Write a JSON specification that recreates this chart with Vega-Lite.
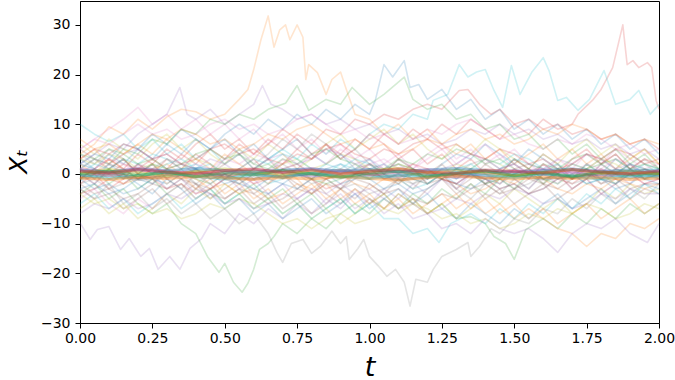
{
"$schema":"https://vega.github.io/schema/vega-lite/v6.json",
"width":579,"height":322,
"autosize":{"type":"none"},
"padding":{"left":80,"top":1,"right":16,"bottom":57},
"background":"white",
"view":{"stroke":"black","strokeWidth":1},
"config":{"font":"DejaVu Sans"},
"data":{"values":[
{"p":0,"t":0,"x":2},{"p":0,"t":0.05,"x":4},{"p":0,"t":0.1,"x":3},{"p":0,"t":0.15,"x":6},{"p":0,"t":0.2,"x":5},{"p":0,"t":0.25,"x":8},{"p":0,"t":0.3,"x":6},{"p":0,"t":0.35,"x":9},{"p":0,"t":0.4,"x":7},{"p":0,"t":0.45,"x":5},{"p":0,"t":0.5,"x":7},{"p":0,"t":0.55,"x":4},{"p":0,"t":0.6,"x":6},{"p":0,"t":0.65,"x":3},{"p":0,"t":0.7,"x":5},{"p":0,"t":0.75,"x":7},{"p":0,"t":0.8,"x":4},{"p":0,"t":0.85,"x":2},{"p":0,"t":0.9,"x":4},{"p":0,"t":0.95,"x":1},{"p":0,"t":1,"x":3},{"p":0,"t":1.05,"x":0},{"p":0,"t":1.1,"x":-2},{"p":0,"t":1.15,"x":1},{"p":0,"t":1.2,"x":-1},{"p":0,"t":1.25,"x":2},{"p":0,"t":1.3,"x":4},{"p":0,"t":1.35,"x":3},{"p":0,"t":1.4,"x":6},{"p":0,"t":1.45,"x":4},{"p":0,"t":1.5,"x":2},{"p":0,"t":1.55,"x":5},{"p":0,"t":1.6,"x":3},{"p":0,"t":1.65,"x":1},{"p":0,"t":1.7,"x":-1},{"p":0,"t":1.75,"x":2},{"p":0,"t":1.8,"x":0},{"p":0,"t":1.85,"x":3},{"p":0,"t":1.9,"x":1},{"p":0,"t":1.95,"x":-1},{"p":0,"t":2,"x":1},
{"p":1,"t":0,"x":4},{"p":1,"t":0.05,"x":6},{"p":1,"t":0.1,"x":9.5},{"p":1,"t":0.15,"x":8},{"p":1,"t":0.2,"x":11},{"p":1,"t":0.25,"x":9},{"p":1,"t":0.3,"x":11.5},{"p":1,"t":0.35,"x":13},{"p":1,"t":0.4,"x":12.5},{"p":1,"t":0.45,"x":11},{"p":1,"t":0.5,"x":12},{"p":1,"t":0.55,"x":15},{"p":1,"t":0.58,"x":17},{"p":1,"t":0.6,"x":21},{"p":1,"t":0.625,"x":27},{"p":1,"t":0.65,"x":31.8},{"p":1,"t":0.67,"x":25.5},{"p":1,"t":0.69,"x":29},{"p":1,"t":0.71,"x":30},{"p":1,"t":0.725,"x":27},{"p":1,"t":0.75,"x":30},{"p":1,"t":0.77,"x":27.5},{"p":1,"t":0.78,"x":19},{"p":1,"t":0.79,"x":22},{"p":1,"t":0.82,"x":20.4},{"p":1,"t":0.85,"x":16},{"p":1,"t":0.87,"x":19},{"p":1,"t":0.9,"x":20.5},{"p":1,"t":0.92,"x":17},{"p":1,"t":0.95,"x":12},{"p":1,"t":1,"x":11},{"p":1,"t":1.05,"x":8},{"p":1,"t":1.1,"x":10},{"p":1,"t":1.15,"x":7},{"p":1,"t":1.2,"x":9},{"p":1,"t":1.25,"x":6},{"p":1,"t":1.3,"x":4},{"p":1,"t":1.35,"x":6},{"p":1,"t":1.4,"x":3},{"p":1,"t":1.45,"x":5},{"p":1,"t":1.5,"x":2},{"p":1,"t":1.55,"x":4},{"p":1,"t":1.6,"x":6},{"p":1,"t":1.65,"x":3},{"p":1,"t":1.7,"x":5},{"p":1,"t":1.75,"x":2},{"p":1,"t":1.8,"x":4},{"p":1,"t":1.85,"x":1},{"p":1,"t":1.9,"x":3},{"p":1,"t":1.95,"x":5},{"p":1,"t":2,"x":2},
{"p":2,"t":0,"x":-1},{"p":2,"t":0.05,"x":1},{"p":2,"t":0.1,"x":-2},{"p":2,"t":0.15,"x":0},{"p":2,"t":0.2,"x":-3},{"p":2,"t":0.25,"x":-1},{"p":2,"t":0.3,"x":-4},{"p":2,"t":0.35,"x":-2},{"p":2,"t":0.4,"x":-5},{"p":2,"t":0.45,"x":-3},{"p":2,"t":0.5,"x":-6},{"p":2,"t":0.55,"x":-4},{"p":2,"t":0.6,"x":-2},{"p":2,"t":0.65,"x":-5},{"p":2,"t":0.7,"x":-3},{"p":2,"t":0.75,"x":-6},{"p":2,"t":0.8,"x":-4},{"p":2,"t":0.85,"x":-7},{"p":2,"t":0.9,"x":-5},{"p":2,"t":0.95,"x":-8},{"p":2,"t":1,"x":-6},{"p":2,"t":1.05,"x":-4},{"p":2,"t":1.1,"x":-7},{"p":2,"t":1.15,"x":-5},{"p":2,"t":1.2,"x":-8},{"p":2,"t":1.25,"x":-6},{"p":2,"t":1.3,"x":-9},{"p":2,"t":1.35,"x":-8.6},{"p":2,"t":1.4,"x":-10},{"p":2,"t":1.43,"x":-12.6},{"p":2,"t":1.47,"x":-14},{"p":2,"t":1.5,"x":-17.2},{"p":2,"t":1.54,"x":-11.2},{"p":2,"t":1.6,"x":-9},{"p":2,"t":1.65,"x":-11},{"p":2,"t":1.7,"x":-8},{"p":2,"t":1.75,"x":-10},{"p":2,"t":1.8,"x":-7},{"p":2,"t":1.85,"x":-9},{"p":2,"t":1.9,"x":-6},{"p":2,"t":1.95,"x":-8},{"p":2,"t":2,"x":-6},
{"p":3,"t":0,"x":-2},{"p":3,"t":0.05,"x":0},{"p":3,"t":0.1,"x":-3},{"p":3,"t":0.15,"x":-1},{"p":3,"t":0.2,"x":2},{"p":3,"t":0.25,"x":0},{"p":3,"t":0.3,"x":3},{"p":3,"t":0.35,"x":1},{"p":3,"t":0.4,"x":4},{"p":3,"t":0.45,"x":2},{"p":3,"t":0.5,"x":-1},{"p":3,"t":0.55,"x":1},{"p":3,"t":0.6,"x":3},{"p":3,"t":0.65,"x":0},{"p":3,"t":0.7,"x":2},{"p":3,"t":0.75,"x":5},{"p":3,"t":0.8,"x":3},{"p":3,"t":0.85,"x":6},{"p":3,"t":0.9,"x":4},{"p":3,"t":0.95,"x":7},{"p":3,"t":1,"x":5},{"p":3,"t":1.05,"x":8},{"p":3,"t":1.1,"x":6},{"p":3,"t":1.15,"x":9},{"p":3,"t":1.2,"x":7},{"p":3,"t":1.25,"x":10},{"p":3,"t":1.3,"x":8},{"p":3,"t":1.35,"x":11},{"p":3,"t":1.4,"x":9},{"p":3,"t":1.45,"x":7},{"p":3,"t":1.5,"x":10},{"p":3,"t":1.55,"x":8},{"p":3,"t":1.6,"x":11},{"p":3,"t":1.65,"x":9},{"p":3,"t":1.7,"x":10},{"p":3,"t":1.72,"x":12},{"p":3,"t":1.77,"x":14.8},{"p":3,"t":1.8,"x":17},{"p":3,"t":1.84,"x":21.4},{"p":3,"t":1.875,"x":30},{"p":3,"t":1.89,"x":22},{"p":3,"t":1.91,"x":22.8},{"p":3,"t":1.93,"x":21.4},{"p":3,"t":1.96,"x":22.4},{"p":3,"t":1.975,"x":21.4},{"p":3,"t":1.99,"x":14.8},{"p":3,"t":2,"x":13},
{"p":4,"t":0,"x":-9.8},{"p":4,"t":0.035,"x":-13.2},{"p":4,"t":0.06,"x":-11.2},{"p":4,"t":0.1,"x":-10.6},{"p":4,"t":0.14,"x":-15.2},{"p":4,"t":0.17,"x":-13},{"p":4,"t":0.21,"x":-16.6},{"p":4,"t":0.24,"x":-15},{"p":4,"t":0.27,"x":-19.2},{"p":4,"t":0.31,"x":-16.6},{"p":4,"t":0.345,"x":-19.2},{"p":4,"t":0.38,"x":-15},{"p":4,"t":0.42,"x":-13},{"p":4,"t":0.45,"x":-10},{"p":4,"t":0.5,"x":-12},{"p":4,"t":0.55,"x":-8},{"p":4,"t":0.6,"x":-10},{"p":4,"t":0.65,"x":-7},{"p":4,"t":0.7,"x":-9},{"p":4,"t":0.75,"x":-6},{"p":4,"t":0.8,"x":-8},{"p":4,"t":0.85,"x":-5},{"p":4,"t":0.9,"x":-7},{"p":4,"t":0.95,"x":-4},{"p":4,"t":1,"x":-6},{"p":4,"t":1.05,"x":-3},{"p":4,"t":1.1,"x":-5},{"p":4,"t":1.15,"x":-2},{"p":4,"t":1.2,"x":-4},{"p":4,"t":1.25,"x":-1},{"p":4,"t":1.3,"x":-3},{"p":4,"t":1.35,"x":0},{"p":4,"t":1.4,"x":-2},{"p":4,"t":1.45,"x":1},{"p":4,"t":1.5,"x":-1},{"p":4,"t":1.55,"x":-3},{"p":4,"t":1.6,"x":0},{"p":4,"t":1.65,"x":-2},{"p":4,"t":1.7,"x":1},{"p":4,"t":1.75,"x":-1},{"p":4,"t":1.8,"x":2},{"p":4,"t":1.85,"x":0},{"p":4,"t":1.9,"x":-2},{"p":4,"t":1.95,"x":1},{"p":4,"t":2,"x":-1},
{"p":5,"t":0,"x":-3},{"p":5,"t":0.05,"x":-5},{"p":5,"t":0.1,"x":-4},{"p":5,"t":0.15,"x":-7},{"p":5,"t":0.2,"x":-5},{"p":5,"t":0.25,"x":-3},{"p":5,"t":0.3,"x":-6},{"p":5,"t":0.35,"x":-4},{"p":5,"t":0.4,"x":-2},{"p":5,"t":0.45,"x":-5},{"p":5,"t":0.5,"x":-3},{"p":5,"t":0.55,"x":-1},{"p":5,"t":0.6,"x":-4},{"p":5,"t":0.65,"x":-2},{"p":5,"t":0.7,"x":0},{"p":5,"t":0.75,"x":-3},{"p":5,"t":0.8,"x":-1},{"p":5,"t":0.85,"x":-4},{"p":5,"t":0.9,"x":-6},{"p":5,"t":0.95,"x":-3},{"p":5,"t":1,"x":-5},{"p":5,"t":1.05,"x":-7},{"p":5,"t":1.1,"x":-4},{"p":5,"t":1.15,"x":-6},{"p":5,"t":1.2,"x":-3},{"p":5,"t":1.25,"x":-1},{"p":5,"t":1.3,"x":-4},{"p":5,"t":1.35,"x":-2},{"p":5,"t":1.4,"x":-5},{"p":5,"t":1.45,"x":-3},{"p":5,"t":1.5,"x":-6},{"p":5,"t":1.55,"x":-4},{"p":5,"t":1.6,"x":-2},{"p":5,"t":1.65,"x":-5},{"p":5,"t":1.7,"x":-3},{"p":5,"t":1.75,"x":-1},{"p":5,"t":1.8,"x":-4},{"p":5,"t":1.85,"x":-2},{"p":5,"t":1.9,"x":-5},{"p":5,"t":1.95,"x":-3},{"p":5,"t":2,"x":-4},
{"p":6,"t":0,"x":5},{"p":6,"t":0.05,"x":7},{"p":6,"t":0.1,"x":9},{"p":6,"t":0.15,"x":11},{"p":6,"t":0.2,"x":13.4},{"p":6,"t":0.25,"x":10},{"p":6,"t":0.3,"x":12},{"p":6,"t":0.35,"x":9},{"p":6,"t":0.4,"x":11},{"p":6,"t":0.45,"x":8},{"p":6,"t":0.5,"x":10},{"p":6,"t":0.55,"x":7},{"p":6,"t":0.6,"x":9},{"p":6,"t":0.65,"x":6},{"p":6,"t":0.7,"x":8},{"p":6,"t":0.75,"x":5},{"p":6,"t":0.8,"x":7},{"p":6,"t":0.85,"x":4},{"p":6,"t":0.9,"x":6},{"p":6,"t":0.95,"x":3},{"p":6,"t":1,"x":5},{"p":6,"t":1.05,"x":2},{"p":6,"t":1.1,"x":4},{"p":6,"t":1.15,"x":1},{"p":6,"t":1.2,"x":3},{"p":6,"t":1.25,"x":5},{"p":6,"t":1.3,"x":2},{"p":6,"t":1.35,"x":4},{"p":6,"t":1.4,"x":6},{"p":6,"t":1.45,"x":3},{"p":6,"t":1.5,"x":5},{"p":6,"t":1.55,"x":2},{"p":6,"t":1.6,"x":0},{"p":6,"t":1.65,"x":3},{"p":6,"t":1.7,"x":1},{"p":6,"t":1.75,"x":4},{"p":6,"t":1.8,"x":2},{"p":6,"t":1.85,"x":5},{"p":6,"t":1.9,"x":3},{"p":6,"t":1.95,"x":1},{"p":6,"t":2,"x":2},
{"p":7,"t":0,"x":-3},{"p":7,"t":0.05,"x":-5},{"p":7,"t":0.1,"x":-2},{"p":7,"t":0.15,"x":-6},{"p":7,"t":0.2,"x":-4},{"p":7,"t":0.25,"x":-7},{"p":7,"t":0.3,"x":-5},{"p":7,"t":0.35,"x":-8},{"p":7,"t":0.4,"x":-6},{"p":7,"t":0.45,"x":-9},{"p":7,"t":0.5,"x":-7},{"p":7,"t":0.55,"x":-10},{"p":7,"t":0.6,"x":-8},{"p":7,"t":0.65,"x":-12},{"p":7,"t":0.68,"x":-15.8},{"p":7,"t":0.7,"x":-17.8},{"p":7,"t":0.73,"x":-14},{"p":7,"t":0.77,"x":-13.2},{"p":7,"t":0.8,"x":-16},{"p":7,"t":0.83,"x":-14.6},{"p":7,"t":0.87,"x":-11.5},{"p":7,"t":0.9,"x":-14},{"p":7,"t":0.92,"x":-12.6},{"p":7,"t":0.93,"x":-17.2},{"p":7,"t":0.96,"x":-15},{"p":7,"t":0.98,"x":-13.2},{"p":7,"t":1,"x":-16.6},{"p":7,"t":1.03,"x":-18.5},{"p":7,"t":1.06,"x":-20.6},{"p":7,"t":1.09,"x":-19.2},{"p":7,"t":1.12,"x":-21.8},{"p":7,"t":1.14,"x":-26.6},{"p":7,"t":1.16,"x":-21.2},{"p":7,"t":1.2,"x":-21.8},{"p":7,"t":1.22,"x":-19.2},{"p":7,"t":1.25,"x":-16.6},{"p":7,"t":1.3,"x":-15.2},{"p":7,"t":1.34,"x":-13.8},{"p":7,"t":1.35,"x":-16.6},{"p":7,"t":1.38,"x":-14.6},{"p":7,"t":1.42,"x":-11},{"p":7,"t":1.45,"x":-12},{"p":7,"t":1.5,"x":-9},{"p":7,"t":1.55,"x":-10},{"p":7,"t":1.6,"x":-7},{"p":7,"t":1.65,"x":-8},{"p":7,"t":1.7,"x":-5},{"p":7,"t":1.75,"x":-7},{"p":7,"t":1.8,"x":-4},{"p":7,"t":1.85,"x":-6},{"p":7,"t":1.9,"x":-3},{"p":7,"t":1.95,"x":-5},{"p":7,"t":2,"x":-2},
{"p":8,"t":0,"x":6},{"p":8,"t":0.05,"x":4},{"p":8,"t":0.1,"x":7},{"p":8,"t":0.15,"x":5},{"p":8,"t":0.2,"x":3},{"p":8,"t":0.25,"x":6},{"p":8,"t":0.3,"x":8},{"p":8,"t":0.35,"x":5},{"p":8,"t":0.4,"x":7},{"p":8,"t":0.45,"x":4},{"p":8,"t":0.5,"x":2},{"p":8,"t":0.55,"x":5},{"p":8,"t":0.6,"x":3},{"p":8,"t":0.65,"x":6},{"p":8,"t":0.7,"x":4},{"p":8,"t":0.75,"x":1},{"p":8,"t":0.8,"x":3},{"p":8,"t":0.85,"x":6},{"p":8,"t":0.9,"x":8},{"p":8,"t":0.95,"x":5},{"p":8,"t":1,"x":7},{"p":8,"t":1.05,"x":9},{"p":8,"t":1.1,"x":6},{"p":8,"t":1.15,"x":8},{"p":8,"t":1.2,"x":5},{"p":8,"t":1.25,"x":3},{"p":8,"t":1.3,"x":6},{"p":8,"t":1.35,"x":4},{"p":8,"t":1.4,"x":7},{"p":8,"t":1.45,"x":5},{"p":8,"t":1.5,"x":3},{"p":8,"t":1.55,"x":1},{"p":8,"t":1.6,"x":4},{"p":8,"t":1.65,"x":2},{"p":8,"t":1.7,"x":5},{"p":8,"t":1.75,"x":7},{"p":8,"t":1.8,"x":4},{"p":8,"t":1.85,"x":6},{"p":8,"t":1.9,"x":3},{"p":8,"t":1.95,"x":5},{"p":8,"t":2,"x":2},
{"p":9,"t":0,"x":10},{"p":9,"t":0.05,"x":8},{"p":9,"t":0.1,"x":6.5},{"p":9,"t":0.15,"x":8},{"p":9,"t":0.2,"x":5},{"p":9,"t":0.25,"x":7},{"p":9,"t":0.3,"x":4},{"p":9,"t":0.35,"x":6},{"p":9,"t":0.4,"x":3},{"p":9,"t":0.45,"x":5},{"p":9,"t":0.5,"x":2},{"p":9,"t":0.55,"x":4},{"p":9,"t":0.6,"x":1},{"p":9,"t":0.65,"x":3},{"p":9,"t":0.7,"x":5},{"p":9,"t":0.75,"x":3},{"p":9,"t":0.8,"x":6},{"p":9,"t":0.85,"x":4},{"p":9,"t":0.9,"x":7},{"p":9,"t":0.95,"x":5},{"p":9,"t":1,"x":8},{"p":9,"t":1.05,"x":10},{"p":9,"t":1.1,"x":9},{"p":9,"t":1.15,"x":12},{"p":9,"t":1.2,"x":11},{"p":9,"t":1.22,"x":14.8},{"p":9,"t":1.27,"x":16},{"p":9,"t":1.31,"x":22},{"p":9,"t":1.34,"x":19.5},{"p":9,"t":1.37,"x":20.5},{"p":9,"t":1.4,"x":21},{"p":9,"t":1.43,"x":16.8},{"p":9,"t":1.46,"x":13.4},{"p":9,"t":1.49,"x":21.8},{"p":9,"t":1.52,"x":16},{"p":9,"t":1.56,"x":20.4},{"p":9,"t":1.6,"x":23.4},{"p":9,"t":1.62,"x":20.8},{"p":9,"t":1.65,"x":14.8},{"p":9,"t":1.68,"x":15.4},{"p":9,"t":1.72,"x":12.8},{"p":9,"t":1.76,"x":15},{"p":9,"t":1.81,"x":20.8},{"p":9,"t":1.85,"x":14},{"p":9,"t":1.9,"x":15},{"p":9,"t":1.93,"x":16.8},{"p":9,"t":1.97,"x":12},{"p":9,"t":2,"x":14},
{"p":10,"t":0,"x":3},{"p":10,"t":0.05,"x":1},{"p":10,"t":0.1,"x":4},{"p":10,"t":0.15,"x":2},{"p":10,"t":0.2,"x":5},{"p":10,"t":0.25,"x":3},{"p":10,"t":0.3,"x":6},{"p":10,"t":0.35,"x":4},{"p":10,"t":0.4,"x":7},{"p":10,"t":0.45,"x":5},{"p":10,"t":0.5,"x":8},{"p":10,"t":0.55,"x":10},{"p":10,"t":0.6,"x":8},{"p":10,"t":0.65,"x":11},{"p":10,"t":0.7,"x":9},{"p":10,"t":0.75,"x":12},{"p":10,"t":0.8,"x":10},{"p":10,"t":0.85,"x":13},{"p":10,"t":0.9,"x":11},{"p":10,"t":0.95,"x":14},{"p":10,"t":1,"x":12},{"p":10,"t":1.02,"x":14.8},{"p":10,"t":1.05,"x":22},{"p":10,"t":1.08,"x":19.5},{"p":10,"t":1.12,"x":22.8},{"p":10,"t":1.14,"x":17.4},{"p":10,"t":1.17,"x":18},{"p":10,"t":1.2,"x":15},{"p":10,"t":1.25,"x":17},{"p":10,"t":1.3,"x":13},{"p":10,"t":1.35,"x":15},{"p":10,"t":1.4,"x":11},{"p":10,"t":1.45,"x":13},{"p":10,"t":1.5,"x":9},{"p":10,"t":1.55,"x":11},{"p":10,"t":1.6,"x":8},{"p":10,"t":1.65,"x":10},{"p":10,"t":1.7,"x":7},{"p":10,"t":1.75,"x":9},{"p":10,"t":1.8,"x":6},{"p":10,"t":1.85,"x":8},{"p":10,"t":1.9,"x":5},{"p":10,"t":1.95,"x":7},{"p":10,"t":2,"x":4},
{"p":11,"t":0,"x":2},{"p":11,"t":0.05,"x":0},{"p":11,"t":0.1,"x":3},{"p":11,"t":0.15,"x":1},{"p":11,"t":0.2,"x":-1},{"p":11,"t":0.25,"x":1},{"p":11,"t":0.3,"x":-2},{"p":11,"t":0.35,"x":0},{"p":11,"t":0.4,"x":-3},{"p":11,"t":0.45,"x":-1},{"p":11,"t":0.5,"x":-4},{"p":11,"t":0.55,"x":-2},{"p":11,"t":0.6,"x":-5},{"p":11,"t":0.65,"x":-3},{"p":11,"t":0.7,"x":-6},{"p":11,"t":0.75,"x":-4},{"p":11,"t":0.8,"x":-2},{"p":11,"t":0.85,"x":-5},{"p":11,"t":0.9,"x":-3},{"p":11,"t":0.95,"x":-6},{"p":11,"t":1,"x":-4},{"p":11,"t":1.05,"x":-7},{"p":11,"t":1.1,"x":-5},{"p":11,"t":1.15,"x":-8},{"p":11,"t":1.2,"x":-6},{"p":11,"t":1.25,"x":-4},{"p":11,"t":1.3,"x":-7},{"p":11,"t":1.35,"x":-5},{"p":11,"t":1.4,"x":-8},{"p":11,"t":1.45,"x":-6},{"p":11,"t":1.5,"x":-9},{"p":11,"t":1.55,"x":-7},{"p":11,"t":1.6,"x":-9},{"p":11,"t":1.65,"x":-11},{"p":11,"t":1.7,"x":-12},{"p":11,"t":1.75,"x":-14.6},{"p":11,"t":1.8,"x":-12},{"p":11,"t":1.85,"x":-13},{"p":11,"t":1.9,"x":-10},{"p":11,"t":1.95,"x":-11},{"p":11,"t":2,"x":-9},
{"p":12,"t":0,"x":-4},{"p":12,"t":0.05,"x":-2},{"p":12,"t":0.1,"x":-5},{"p":12,"t":0.15,"x":-3},{"p":12,"t":0.2,"x":-6},{"p":12,"t":0.25,"x":-8},{"p":12,"t":0.3,"x":-6},{"p":12,"t":0.35,"x":-10},{"p":12,"t":0.4,"x":-12},{"p":12,"t":0.44,"x":-16.6},{"p":12,"t":0.48,"x":-19.8},{"p":12,"t":0.5,"x":-18},{"p":12,"t":0.53,"x":-21.8},{"p":12,"t":0.56,"x":-23.8},{"p":12,"t":0.58,"x":-22},{"p":12,"t":0.6,"x":-19.2},{"p":12,"t":0.62,"x":-15.2},{"p":12,"t":0.65,"x":-14},{"p":12,"t":0.67,"x":-12.6},{"p":12,"t":0.7,"x":-10},{"p":12,"t":0.75,"x":-12},{"p":12,"t":0.8,"x":-9},{"p":12,"t":0.85,"x":-11},{"p":12,"t":0.9,"x":-8},{"p":12,"t":0.95,"x":-6},{"p":12,"t":1,"x":-8},{"p":12,"t":1.05,"x":-5},{"p":12,"t":1.1,"x":-7},{"p":12,"t":1.15,"x":-4},{"p":12,"t":1.2,"x":-6},{"p":12,"t":1.25,"x":-3},{"p":12,"t":1.3,"x":-5},{"p":12,"t":1.35,"x":-2},{"p":12,"t":1.4,"x":-4},{"p":12,"t":1.45,"x":-1},{"p":12,"t":1.5,"x":-3},{"p":12,"t":1.55,"x":0},{"p":12,"t":1.6,"x":-2},{"p":12,"t":1.65,"x":1},{"p":12,"t":1.7,"x":-1},{"p":12,"t":1.75,"x":2},{"p":12,"t":1.8,"x":0},{"p":12,"t":1.85,"x":-2},{"p":12,"t":1.9,"x":1},{"p":12,"t":1.95,"x":-1},{"p":12,"t":2,"x":0},
{"p":13,"t":0,"x":-1},{"p":13,"t":0.05,"x":1},{"p":13,"t":0.1,"x":0},{"p":13,"t":0.15,"x":2},{"p":13,"t":0.2,"x":1},{"p":13,"t":0.25,"x":3},{"p":13,"t":0.3,"x":1},{"p":13,"t":0.35,"x":4},{"p":13,"t":0.4,"x":2},{"p":13,"t":0.45,"x":5},{"p":13,"t":0.5,"x":3},{"p":13,"t":0.55,"x":6},{"p":13,"t":0.6,"x":4},{"p":13,"t":0.65,"x":7},{"p":13,"t":0.7,"x":5},{"p":13,"t":0.75,"x":8},{"p":13,"t":0.8,"x":6},{"p":13,"t":0.85,"x":9},{"p":13,"t":0.9,"x":8},{"p":13,"t":0.95,"x":11},{"p":13,"t":1,"x":10},{"p":13,"t":1.05,"x":12},{"p":13,"t":1.1,"x":11},{"p":13,"t":1.15,"x":13},{"p":13,"t":1.2,"x":14},{"p":13,"t":1.25,"x":13},{"p":13,"t":1.31,"x":16.8},{"p":13,"t":1.34,"x":17},{"p":13,"t":1.38,"x":14},{"p":13,"t":1.42,"x":12},{"p":13,"t":1.45,"x":13},{"p":13,"t":1.5,"x":10},{"p":13,"t":1.55,"x":11},{"p":13,"t":1.6,"x":9},{"p":13,"t":1.65,"x":10},{"p":13,"t":1.7,"x":8},{"p":13,"t":1.75,"x":9},{"p":13,"t":1.8,"x":7},{"p":13,"t":1.85,"x":8},{"p":13,"t":1.9,"x":6},{"p":13,"t":1.95,"x":7},{"p":13,"t":2,"x":5},
{"p":14,"t":0,"x":2},{"p":14,"t":0.05,"x":4},{"p":14,"t":0.1,"x":6},{"p":14,"t":0.15,"x":5},{"p":14,"t":0.2,"x":8},{"p":14,"t":0.25,"x":10},{"p":14,"t":0.3,"x":12},{"p":14,"t":0.345,"x":17.4},{"p":14,"t":0.37,"x":12},{"p":14,"t":0.4,"x":11},{"p":14,"t":0.45,"x":13},{"p":14,"t":0.5,"x":10},{"p":14,"t":0.55,"x":12},{"p":14,"t":0.6,"x":14},{"p":14,"t":0.63,"x":17.8},{"p":14,"t":0.66,"x":14},{"p":14,"t":0.7,"x":13},{"p":14,"t":0.75,"x":11},{"p":14,"t":0.8,"x":12},{"p":14,"t":0.85,"x":10},{"p":14,"t":0.9,"x":11},{"p":14,"t":0.95,"x":9},{"p":14,"t":1,"x":10},{"p":14,"t":1.05,"x":8},{"p":14,"t":1.1,"x":9},{"p":14,"t":1.15,"x":7},{"p":14,"t":1.2,"x":8},{"p":14,"t":1.25,"x":6},{"p":14,"t":1.3,"x":7},{"p":14,"t":1.35,"x":9},{"p":14,"t":1.4,"x":8},{"p":14,"t":1.45,"x":10},{"p":14,"t":1.5,"x":8},{"p":14,"t":1.55,"x":9},{"p":14,"t":1.6,"x":7},{"p":14,"t":1.65,"x":8},{"p":14,"t":1.7,"x":6},{"p":14,"t":1.75,"x":7},{"p":14,"t":1.8,"x":5},{"p":14,"t":1.85,"x":6},{"p":14,"t":1.9,"x":4},{"p":14,"t":1.95,"x":5},{"p":14,"t":2,"x":3},
{"p":15,"t":0,"x":0},{"p":15,"t":0.05,"x":-2},{"p":15,"t":0.1,"x":1},{"p":15,"t":0.15,"x":3},{"p":15,"t":0.2,"x":0},{"p":15,"t":0.25,"x":2},{"p":15,"t":0.3,"x":-1},{"p":15,"t":0.35,"x":-3},{"p":15,"t":0.4,"x":0},{"p":15,"t":0.45,"x":-2},{"p":15,"t":0.5,"x":-5},{"p":15,"t":0.55,"x":-3},{"p":15,"t":0.6,"x":-6},{"p":15,"t":0.65,"x":-4},{"p":15,"t":0.7,"x":-7},{"p":15,"t":0.75,"x":-5},{"p":15,"t":0.8,"x":-8},{"p":15,"t":0.85,"x":-6},{"p":15,"t":0.9,"x":-3},{"p":15,"t":0.95,"x":-5},{"p":15,"t":1,"x":-2},{"p":15,"t":1.05,"x":-4},{"p":15,"t":1.1,"x":-1},{"p":15,"t":1.15,"x":-3},{"p":15,"t":1.2,"x":0},{"p":15,"t":1.25,"x":2},{"p":15,"t":1.3,"x":-1},{"p":15,"t":1.35,"x":1},{"p":15,"t":1.4,"x":-2},{"p":15,"t":1.45,"x":0},{"p":15,"t":1.5,"x":3},{"p":15,"t":1.55,"x":1},{"p":15,"t":1.6,"x":4},{"p":15,"t":1.65,"x":2},{"p":15,"t":1.7,"x":-1},{"p":15,"t":1.75,"x":1},{"p":15,"t":1.8,"x":-2},{"p":15,"t":1.85,"x":0},{"p":15,"t":1.9,"x":2},{"p":15,"t":1.95,"x":-1},{"p":15,"t":2,"x":0},
{"p":16,"t":0,"x":-5},{"p":16,"t":0.05,"x":-3},{"p":16,"t":0.1,"x":-6},{"p":16,"t":0.15,"x":-8},{"p":16,"t":0.2,"x":-5},{"p":16,"t":0.25,"x":-7},{"p":16,"t":0.3,"x":-4},{"p":16,"t":0.35,"x":-2},{"p":16,"t":0.4,"x":-5},{"p":16,"t":0.45,"x":-3},{"p":16,"t":0.5,"x":-1},{"p":16,"t":0.55,"x":1},{"p":16,"t":0.6,"x":-2},{"p":16,"t":0.65,"x":0},{"p":16,"t":0.7,"x":3},{"p":16,"t":0.75,"x":1},{"p":16,"t":0.8,"x":4},{"p":16,"t":0.85,"x":2},{"p":16,"t":0.9,"x":5},{"p":16,"t":0.95,"x":3},{"p":16,"t":1,"x":0},{"p":16,"t":1.05,"x":2},{"p":16,"t":1.1,"x":-1},{"p":16,"t":1.15,"x":1},{"p":16,"t":1.2,"x":4},{"p":16,"t":1.25,"x":6},{"p":16,"t":1.3,"x":3},{"p":16,"t":1.35,"x":5},{"p":16,"t":1.4,"x":2},{"p":16,"t":1.45,"x":4},{"p":16,"t":1.5,"x":1},{"p":16,"t":1.55,"x":-1},{"p":16,"t":1.6,"x":2},{"p":16,"t":1.65,"x":0},{"p":16,"t":1.7,"x":-3},{"p":16,"t":1.75,"x":-1},{"p":16,"t":1.8,"x":-4},{"p":16,"t":1.85,"x":-2},{"p":16,"t":1.9,"x":0},{"p":16,"t":1.95,"x":-2},{"p":16,"t":2,"x":-1},
{"p":17,"t":0,"x":4},{"p":17,"t":0.05,"x":2},{"p":17,"t":0.1,"x":5},{"p":17,"t":0.15,"x":3},{"p":17,"t":0.2,"x":0},{"p":17,"t":0.25,"x":2},{"p":17,"t":0.3,"x":-1},{"p":17,"t":0.35,"x":1},{"p":17,"t":0.4,"x":-2},{"p":17,"t":0.45,"x":0},{"p":17,"t":0.5,"x":3},{"p":17,"t":0.55,"x":5},{"p":17,"t":0.6,"x":2},{"p":17,"t":0.65,"x":4},{"p":17,"t":0.7,"x":7},{"p":17,"t":0.75,"x":5},{"p":17,"t":0.8,"x":8},{"p":17,"t":0.85,"x":6},{"p":17,"t":0.9,"x":3},{"p":17,"t":0.95,"x":5},{"p":17,"t":1,"x":2},{"p":17,"t":1.05,"x":0},{"p":17,"t":1.1,"x":3},{"p":17,"t":1.15,"x":1},{"p":17,"t":1.2,"x":-2},{"p":17,"t":1.25,"x":0},{"p":17,"t":1.3,"x":-3},{"p":17,"t":1.35,"x":-5},{"p":17,"t":1.4,"x":-2},{"p":17,"t":1.45,"x":-4},{"p":17,"t":1.5,"x":-1},{"p":17,"t":1.55,"x":-3},{"p":17,"t":1.6,"x":0},{"p":17,"t":1.65,"x":2},{"p":17,"t":1.7,"x":-1},{"p":17,"t":1.75,"x":1},{"p":17,"t":1.8,"x":3},{"p":17,"t":1.85,"x":1},{"p":17,"t":1.9,"x":4},{"p":17,"t":1.95,"x":2},{"p":17,"t":2,"x":0},
{"p":18,"t":0,"x":-7},{"p":18,"t":0.05,"x":-5},{"p":18,"t":0.1,"x":-8},{"p":18,"t":0.15,"x":-6},{"p":18,"t":0.2,"x":-9},{"p":18,"t":0.25,"x":-7},{"p":18,"t":0.3,"x":-4},{"p":18,"t":0.35,"x":-6},{"p":18,"t":0.4,"x":-3},{"p":18,"t":0.45,"x":-5},{"p":18,"t":0.5,"x":-2},{"p":18,"t":0.55,"x":-4},{"p":18,"t":0.6,"x":-7},{"p":18,"t":0.65,"x":-5},{"p":18,"t":0.7,"x":-8},{"p":18,"t":0.75,"x":-6},{"p":18,"t":0.8,"x":-9},{"p":18,"t":0.85,"x":-7},{"p":18,"t":0.9,"x":-10},{"p":18,"t":0.95,"x":-8},{"p":18,"t":1,"x":-5},{"p":18,"t":1.05,"x":-7},{"p":18,"t":1.1,"x":-4},{"p":18,"t":1.15,"x":-6},{"p":18,"t":1.2,"x":-8},{"p":18,"t":1.25,"x":-6},{"p":18,"t":1.3,"x":-9},{"p":18,"t":1.35,"x":-7},{"p":18,"t":1.4,"x":-4},{"p":18,"t":1.45,"x":-6},{"p":18,"t":1.5,"x":-3},{"p":18,"t":1.55,"x":-5},{"p":18,"t":1.6,"x":-7},{"p":18,"t":1.65,"x":-5},{"p":18,"t":1.7,"x":-8},{"p":18,"t":1.75,"x":-6},{"p":18,"t":1.8,"x":-3},{"p":18,"t":1.85,"x":-5},{"p":18,"t":1.9,"x":-2},{"p":18,"t":1.95,"x":-4},{"p":18,"t":2,"x":-3},
{"p":19,"t":0,"x":-6},{"p":19,"t":0.05,"x":-4},{"p":19,"t":0.1,"x":-7},{"p":19,"t":0.15,"x":-5},{"p":19,"t":0.2,"x":-8},{"p":19,"t":0.25,"x":-6},{"p":19,"t":0.3,"x":-4},{"p":19,"t":0.35,"x":-7},{"p":19,"t":0.4,"x":-5},{"p":19,"t":0.45,"x":-3},{"p":19,"t":0.5,"x":-6},{"p":19,"t":0.55,"x":-4},{"p":19,"t":0.6,"x":-7},{"p":19,"t":0.65,"x":-5},{"p":19,"t":0.7,"x":-8},{"p":19,"t":0.75,"x":-6},{"p":19,"t":0.8,"x":-9},{"p":19,"t":0.85,"x":-7},{"p":19,"t":0.9,"x":-5},{"p":19,"t":0.95,"x":-8},{"p":19,"t":1,"x":-6},{"p":19,"t":1.05,"x":-9},{"p":19,"t":1.1,"x":-9},{"p":19,"t":1.15,"x":-12},{"p":19,"t":1.2,"x":-11},{"p":19,"t":1.24,"x":-13.8},{"p":19,"t":1.28,"x":-10},{"p":19,"t":1.35,"x":-8},{"p":19,"t":1.4,"x":-10},{"p":19,"t":1.45,"x":-7},{"p":19,"t":1.5,"x":-9},{"p":19,"t":1.55,"x":-6},{"p":19,"t":1.6,"x":-8},{"p":19,"t":1.65,"x":-5},{"p":19,"t":1.7,"x":-7},{"p":19,"t":1.75,"x":-4},{"p":19,"t":1.8,"x":-6},{"p":19,"t":1.85,"x":-3},{"p":19,"t":1.9,"x":-5},{"p":19,"t":1.95,"x":-2},{"p":19,"t":2,"x":-4},
{"p":20,"t":0,"x":1},{"p":20,"t":0.05,"x":-1},{"p":20,"t":0.1,"x":2},{"p":20,"t":0.15,"x":0},{"p":20,"t":0.2,"x":-2},{"p":20,"t":0.25,"x":-4},{"p":20,"t":0.3,"x":-1},{"p":20,"t":0.35,"x":-3},{"p":20,"t":0.4,"x":-6},{"p":20,"t":0.45,"x":-4},{"p":20,"t":0.5,"x":-7},{"p":20,"t":0.55,"x":-5},{"p":20,"t":0.6,"x":-8},{"p":20,"t":0.65,"x":-6},{"p":20,"t":0.7,"x":-9},{"p":20,"t":0.75,"x":-7},{"p":20,"t":0.8,"x":-5},{"p":20,"t":0.85,"x":-8},{"p":20,"t":0.9,"x":-6},{"p":20,"t":0.95,"x":-4},{"p":20,"t":1,"x":-7},{"p":20,"t":1.05,"x":-5},{"p":20,"t":1.1,"x":-3},{"p":20,"t":1.15,"x":-6},{"p":20,"t":1.2,"x":-4},{"p":20,"t":1.25,"x":-7},{"p":20,"t":1.3,"x":-9},{"p":20,"t":1.35,"x":-6},{"p":20,"t":1.4,"x":-8},{"p":20,"t":1.45,"x":-10},{"p":20,"t":1.5,"x":-7},{"p":20,"t":1.55,"x":-9},{"p":20,"t":1.6,"x":-6},{"p":20,"t":1.65,"x":-4},{"p":20,"t":1.7,"x":-7},{"p":20,"t":1.75,"x":-5},{"p":20,"t":1.8,"x":-3},{"p":20,"t":1.85,"x":-6},{"p":20,"t":1.9,"x":-4},{"p":20,"t":1.95,"x":-2},{"p":20,"t":2,"x":-3},
{"p":21,"t":0,"x":3},{"p":21,"t":0.05,"x":5},{"p":21,"t":0.1,"x":2},{"p":21,"t":0.15,"x":4},{"p":21,"t":0.2,"x":6},{"p":21,"t":0.25,"x":4},{"p":21,"t":0.3,"x":7},{"p":21,"t":0.35,"x":5},{"p":21,"t":0.4,"x":3},{"p":21,"t":0.45,"x":1},{"p":21,"t":0.5,"x":4},{"p":21,"t":0.55,"x":2},{"p":21,"t":0.6,"x":0},{"p":21,"t":0.65,"x":-2},{"p":21,"t":0.7,"x":1},{"p":21,"t":0.75,"x":-1},{"p":21,"t":0.8,"x":-4},{"p":21,"t":0.85,"x":-2},{"p":21,"t":0.9,"x":-5},{"p":21,"t":0.95,"x":-3},{"p":21,"t":1,"x":-6},{"p":21,"t":1.05,"x":-4},{"p":21,"t":1.1,"x":-7},{"p":21,"t":1.15,"x":-5},{"p":21,"t":1.2,"x":-8},{"p":21,"t":1.25,"x":-6},{"p":21,"t":1.3,"x":-4},{"p":21,"t":1.35,"x":-7},{"p":21,"t":1.4,"x":-5},{"p":21,"t":1.45,"x":-8},{"p":21,"t":1.5,"x":-6},{"p":21,"t":1.55,"x":-9},{"p":21,"t":1.6,"x":-7},{"p":21,"t":1.65,"x":-10},{"p":21,"t":1.7,"x":-8},{"p":21,"t":1.75,"x":-6},{"p":21,"t":1.8,"x":-9},{"p":21,"t":1.85,"x":-7},{"p":21,"t":1.9,"x":-5},{"p":21,"t":1.95,"x":-8},{"p":21,"t":2,"x":-6},
{"p":22,"t":0,"x":1},{"p":22,"t":0.05,"x":3},{"p":22,"t":0.1,"x":2},{"p":22,"t":0.15,"x":5},{"p":22,"t":0.2,"x":4},{"p":22,"t":0.25,"x":7},{"p":22,"t":0.3,"x":6},{"p":22,"t":0.35,"x":9},{"p":22,"t":0.4,"x":8},{"p":22,"t":0.45,"x":11},{"p":22,"t":0.5,"x":10},{"p":22,"t":0.55,"x":12},{"p":22,"t":0.6,"x":11},{"p":22,"t":0.65,"x":13},{"p":22,"t":0.71,"x":14.2},{"p":22,"t":0.75,"x":17.8},{"p":22,"t":0.79,"x":12.8},{"p":22,"t":0.85,"x":15},{"p":22,"t":0.9,"x":14},{"p":22,"t":0.94,"x":17.4},{"p":22,"t":1,"x":14},{"p":22,"t":1.05,"x":16},{"p":22,"t":1.12,"x":19.5},{"p":22,"t":1.15,"x":15},{"p":22,"t":1.2,"x":13},{"p":22,"t":1.25,"x":14},{"p":22,"t":1.3,"x":11},{"p":22,"t":1.35,"x":12},{"p":22,"t":1.4,"x":9},{"p":22,"t":1.45,"x":10},{"p":22,"t":1.5,"x":7},{"p":22,"t":1.55,"x":8},{"p":22,"t":1.6,"x":5},{"p":22,"t":1.65,"x":7},{"p":22,"t":1.7,"x":4},{"p":22,"t":1.75,"x":6},{"p":22,"t":1.8,"x":3},{"p":22,"t":1.85,"x":5},{"p":22,"t":1.9,"x":2},{"p":22,"t":1.95,"x":4},{"p":22,"t":2,"x":1},
{"p":23,"t":0,"x":-1},{"p":23,"t":0.05,"x":1},{"p":23,"t":0.1,"x":3},{"p":23,"t":0.15,"x":1},{"p":23,"t":0.2,"x":4},{"p":23,"t":0.25,"x":2},{"p":23,"t":0.3,"x":5},{"p":23,"t":0.35,"x":3},{"p":23,"t":0.4,"x":6},{"p":23,"t":0.45,"x":8},{"p":23,"t":0.5,"x":5},{"p":23,"t":0.55,"x":7},{"p":23,"t":0.6,"x":4},{"p":23,"t":0.65,"x":6},{"p":23,"t":0.7,"x":9},{"p":23,"t":0.75,"x":7},{"p":23,"t":0.8,"x":4},{"p":23,"t":0.85,"x":6},{"p":23,"t":0.9,"x":3},{"p":23,"t":0.95,"x":5},{"p":23,"t":1,"x":8},{"p":23,"t":1.05,"x":6},{"p":23,"t":1.1,"x":3},{"p":23,"t":1.15,"x":5},{"p":23,"t":1.2,"x":2},{"p":23,"t":1.25,"x":4},{"p":23,"t":1.3,"x":1},{"p":23,"t":1.35,"x":3},{"p":23,"t":1.4,"x":0},{"p":23,"t":1.45,"x":-2},{"p":23,"t":1.5,"x":1},{"p":23,"t":1.55,"x":-1},{"p":23,"t":1.6,"x":2},{"p":23,"t":1.65,"x":0},{"p":23,"t":1.7,"x":3},{"p":23,"t":1.75,"x":5},{"p":23,"t":1.8,"x":2},{"p":23,"t":1.85,"x":4},{"p":23,"t":1.9,"x":1},{"p":23,"t":1.95,"x":3},{"p":23,"t":2,"x":2},
{"p":24,"t":0,"x":0},{"p":24,"t":0.05,"x":-2},{"p":24,"t":0.1,"x":1},{"p":24,"t":0.15,"x":-1},{"p":24,"t":0.2,"x":2},{"p":24,"t":0.25,"x":0},{"p":24,"t":0.3,"x":-3},{"p":24,"t":0.35,"x":-1},{"p":24,"t":0.4,"x":-4},{"p":24,"t":0.45,"x":-2},{"p":24,"t":0.5,"x":0},{"p":24,"t":0.55,"x":-3},{"p":24,"t":0.6,"x":-1},{"p":24,"t":0.65,"x":-4},{"p":24,"t":0.7,"x":-2},{"p":24,"t":0.75,"x":-5},{"p":24,"t":0.8,"x":-3},{"p":24,"t":0.85,"x":-6},{"p":24,"t":0.9,"x":-4},{"p":24,"t":0.95,"x":-7},{"p":24,"t":1,"x":-5},{"p":24,"t":1.05,"x":-8},{"p":24,"t":1.1,"x":-6},{"p":24,"t":1.15,"x":-9},{"p":24,"t":1.2,"x":-8},{"p":24,"t":1.25,"x":-11},{"p":24,"t":1.3,"x":-10},{"p":24,"t":1.35,"x":-12},{"p":24,"t":1.4,"x":-9},{"p":24,"t":1.45,"x":-11},{"p":24,"t":1.5,"x":-12},{"p":24,"t":1.55,"x":-11},{"p":24,"t":1.6,"x":-13},{"p":24,"t":1.65,"x":-15.8},{"p":24,"t":1.7,"x":-12},{"p":24,"t":1.75,"x":-10},{"p":24,"t":1.8,"x":-11},{"p":24,"t":1.85,"x":-9},{"p":24,"t":1.9,"x":-12},{"p":24,"t":1.96,"x":-13.8},{"p":24,"t":2,"x":-10},
{"p":25,"t":0,"x":5},{"p":25,"t":0.05,"x":3},{"p":25,"t":0.1,"x":1},{"p":25,"t":0.15,"x":3},{"p":25,"t":0.2,"x":0},{"p":25,"t":0.25,"x":-2},{"p":25,"t":0.3,"x":1},{"p":25,"t":0.35,"x":-1},{"p":25,"t":0.4,"x":-3},{"p":25,"t":0.45,"x":0},{"p":25,"t":0.5,"x":2},{"p":25,"t":0.55,"x":4},{"p":25,"t":0.6,"x":1},{"p":25,"t":0.65,"x":3},{"p":25,"t":0.7,"x":0},{"p":25,"t":0.75,"x":-2},{"p":25,"t":0.8,"x":-4},{"p":25,"t":0.85,"x":-1},{"p":25,"t":0.9,"x":-3},{"p":25,"t":0.95,"x":0},{"p":25,"t":1,"x":2},{"p":25,"t":1.05,"x":0},{"p":25,"t":1.1,"x":3},{"p":25,"t":1.15,"x":1},{"p":25,"t":1.2,"x":-2},{"p":25,"t":1.25,"x":0},{"p":25,"t":1.3,"x":-3},{"p":25,"t":1.35,"x":-1},{"p":25,"t":1.4,"x":2},{"p":25,"t":1.45,"x":0},{"p":25,"t":1.5,"x":3},{"p":25,"t":1.55,"x":1},{"p":25,"t":1.6,"x":-2},{"p":25,"t":1.65,"x":0},{"p":25,"t":1.7,"x":-3},{"p":25,"t":1.75,"x":-1},{"p":25,"t":1.8,"x":2},{"p":25,"t":1.85,"x":4},{"p":25,"t":1.9,"x":1},{"p":25,"t":1.95,"x":3},{"p":25,"t":2,"x":1},
{"p":26,"t":0,"x":2},{"p":26,"t":0.05,"x":1},{"p":26,"t":0.1,"x":3},{"p":26,"t":0.15,"x":2},{"p":26,"t":0.2,"x":0},{"p":26,"t":0.25,"x":1},{"p":26,"t":0.3,"x":-1},{"p":26,"t":0.35,"x":0},{"p":26,"t":0.4,"x":2},{"p":26,"t":0.45,"x":1},{"p":26,"t":0.5,"x":3},{"p":26,"t":0.55,"x":2},{"p":26,"t":0.6,"x":4},{"p":26,"t":0.65,"x":3},{"p":26,"t":0.7,"x":1},{"p":26,"t":0.75,"x":2},{"p":26,"t":0.8,"x":0},{"p":26,"t":0.85,"x":-1},{"p":26,"t":0.9,"x":1},{"p":26,"t":0.95,"x":0},{"p":26,"t":1,"x":2},{"p":26,"t":1.05,"x":3},{"p":26,"t":1.1,"x":1},{"p":26,"t":1.15,"x":2},{"p":26,"t":1.2,"x":0},{"p":26,"t":1.25,"x":-1},{"p":26,"t":1.3,"x":-2},{"p":26,"t":1.35,"x":0},{"p":26,"t":1.4,"x":-1},{"p":26,"t":1.45,"x":1},{"p":26,"t":1.5,"x":2},{"p":26,"t":1.55,"x":0},{"p":26,"t":1.6,"x":1},{"p":26,"t":1.65,"x":-1},{"p":26,"t":1.7,"x":0},{"p":26,"t":1.75,"x":2},{"p":26,"t":1.8,"x":1},{"p":26,"t":1.85,"x":3},{"p":26,"t":1.9,"x":2},{"p":26,"t":1.95,"x":0},{"p":26,"t":2,"x":1},
{"p":27,"t":0,"x":-2},{"p":27,"t":0.05,"x":-1},{"p":27,"t":0.1,"x":-3},{"p":27,"t":0.15,"x":-2},{"p":27,"t":0.2,"x":0},{"p":27,"t":0.25,"x":-1},{"p":27,"t":0.3,"x":1},{"p":27,"t":0.35,"x":0},{"p":27,"t":0.4,"x":-2},{"p":27,"t":0.45,"x":-3},{"p":27,"t":0.5,"x":-1},{"p":27,"t":0.55,"x":-2},{"p":27,"t":0.6,"x":0},{"p":27,"t":0.65,"x":1},{"p":27,"t":0.7,"x":-1},{"p":27,"t":0.75,"x":0},{"p":27,"t":0.8,"x":-2},{"p":27,"t":0.85,"x":-1},{"p":27,"t":0.9,"x":-3},{"p":27,"t":0.95,"x":-2},{"p":27,"t":1,"x":-4},{"p":27,"t":1.05,"x":-3},{"p":27,"t":1.1,"x":-1},{"p":27,"t":1.15,"x":-2},{"p":27,"t":1.2,"x":0},{"p":27,"t":1.25,"x":-1},{"p":27,"t":1.3,"x":1},{"p":27,"t":1.35,"x":0},{"p":27,"t":1.4,"x":-2},{"p":27,"t":1.45,"x":-1},{"p":27,"t":1.5,"x":-3},{"p":27,"t":1.55,"x":-2},{"p":27,"t":1.6,"x":0},{"p":27,"t":1.65,"x":-1},{"p":27,"t":1.7,"x":1},{"p":27,"t":1.75,"x":0},{"p":27,"t":1.8,"x":-1},{"p":27,"t":1.85,"x":-2},{"p":27,"t":1.9,"x":0},{"p":27,"t":1.95,"x":-1},{"p":27,"t":2,"x":-1},
{"p":28,"t":0,"x":3},{"p":28,"t":0.05,"x":2},{"p":28,"t":0.1,"x":4},{"p":28,"t":0.15,"x":3},{"p":28,"t":0.2,"x":1},{"p":28,"t":0.25,"x":2},{"p":28,"t":0.3,"x":0},{"p":28,"t":0.35,"x":1},{"p":28,"t":0.4,"x":3},{"p":28,"t":0.45,"x":2},{"p":28,"t":0.5,"x":0},{"p":28,"t":0.55,"x":-1},{"p":28,"t":0.6,"x":1},{"p":28,"t":0.65,"x":0},{"p":28,"t":0.7,"x":2},{"p":28,"t":0.75,"x":3},{"p":28,"t":0.8,"x":1},{"p":28,"t":0.85,"x":2},{"p":28,"t":0.9,"x":4},{"p":28,"t":0.95,"x":3},{"p":28,"t":1,"x":1},{"p":28,"t":1.05,"x":0},{"p":28,"t":1.1,"x":2},{"p":28,"t":1.15,"x":1},{"p":28,"t":1.2,"x":-1},{"p":28,"t":1.25,"x":0},{"p":28,"t":1.3,"x":2},{"p":28,"t":1.35,"x":1},{"p":28,"t":1.4,"x":3},{"p":28,"t":1.45,"x":2},{"p":28,"t":1.5,"x":0},{"p":28,"t":1.55,"x":1},{"p":28,"t":1.6,"x":-1},{"p":28,"t":1.65,"x":0},{"p":28,"t":1.7,"x":2},{"p":28,"t":1.75,"x":1},{"p":28,"t":1.8,"x":3},{"p":28,"t":1.85,"x":2},{"p":28,"t":1.9,"x":0},{"p":28,"t":1.95,"x":1},{"p":28,"t":2,"x":0},
{"p":29,"t":0,"x":0},{"p":29,"t":0.05,"x":2},{"p":29,"t":0.1,"x":1},{"p":29,"t":0.15,"x":3},{"p":29,"t":0.2,"x":2},{"p":29,"t":0.25,"x":4},{"p":29,"t":0.3,"x":3},{"p":29,"t":0.35,"x":1},{"p":29,"t":0.4,"x":2},{"p":29,"t":0.45,"x":0},{"p":29,"t":0.5,"x":-1},{"p":29,"t":0.55,"x":1},{"p":29,"t":0.6,"x":0},{"p":29,"t":0.65,"x":-2},{"p":29,"t":0.7,"x":-1},{"p":29,"t":0.75,"x":1},{"p":29,"t":0.8,"x":0},{"p":29,"t":0.85,"x":2},{"p":29,"t":0.9,"x":1},{"p":29,"t":0.95,"x":3},{"p":29,"t":1,"x":2},{"p":29,"t":1.05,"x":0},{"p":29,"t":1.1,"x":-1},{"p":29,"t":1.15,"x":-3},{"p":29,"t":1.2,"x":-2},{"p":29,"t":1.25,"x":0},{"p":29,"t":1.3,"x":-1},{"p":29,"t":1.35,"x":1},{"p":29,"t":1.4,"x":3},{"p":29,"t":1.45,"x":2},{"p":29,"t":1.5,"x":4},{"p":29,"t":1.55,"x":3},{"p":29,"t":1.6,"x":1},{"p":29,"t":1.65,"x":2},{"p":29,"t":1.7,"x":0},{"p":29,"t":1.75,"x":-2},{"p":29,"t":1.8,"x":-1},{"p":29,"t":1.85,"x":1},{"p":29,"t":1.9,"x":0},{"p":29,"t":1.95,"x":2},{"p":29,"t":2,"x":1},
{"p":30,"t":0,"x":-1},{"p":30,"t":0.05,"x":-3},{"p":30,"t":0.1,"x":-2},{"p":30,"t":0.15,"x":-4},{"p":30,"t":0.2,"x":-3},{"p":30,"t":0.25,"x":-1},{"p":30,"t":0.3,"x":-2},{"p":30,"t":0.35,"x":0},{"p":30,"t":0.4,"x":1},{"p":30,"t":0.45,"x":-1},{"p":30,"t":0.5,"x":0},{"p":30,"t":0.55,"x":-2},{"p":30,"t":0.6,"x":-3},{"p":30,"t":0.65,"x":-1},{"p":30,"t":0.7,"x":-2},{"p":30,"t":0.75,"x":0},{"p":30,"t":0.8,"x":-1},{"p":30,"t":0.85,"x":1},{"p":30,"t":0.9,"x":2},{"p":30,"t":0.95,"x":0},{"p":30,"t":1,"x":-1},{"p":30,"t":1.05,"x":-3},{"p":30,"t":1.1,"x":-2},{"p":30,"t":1.15,"x":-4},{"p":30,"t":1.2,"x":-3},{"p":30,"t":1.25,"x":-1},{"p":30,"t":1.3,"x":-2},{"p":30,"t":1.35,"x":0},{"p":30,"t":1.4,"x":-1},{"p":30,"t":1.45,"x":-3},{"p":30,"t":1.5,"x":-2},{"p":30,"t":1.55,"x":-4},{"p":30,"t":1.6,"x":-3},{"p":30,"t":1.65,"x":-1},{"p":30,"t":1.7,"x":0},{"p":30,"t":1.75,"x":-2},{"p":30,"t":1.8,"x":-1},{"p":30,"t":1.85,"x":-3},{"p":30,"t":1.9,"x":-2},{"p":30,"t":1.95,"x":0},{"p":30,"t":2,"x":-1},
{"p":31,"t":0,"x":1},{"p":31,"t":0.05,"x":-1},{"p":31,"t":0.1,"x":0},{"p":31,"t":0.15,"x":-2},{"p":31,"t":0.2,"x":-1},{"p":31,"t":0.25,"x":1},{"p":31,"t":0.3,"x":2},{"p":31,"t":0.35,"x":0},{"p":31,"t":0.4,"x":-1},{"p":31,"t":0.45,"x":-3},{"p":31,"t":0.5,"x":-2},{"p":31,"t":0.55,"x":-4},{"p":31,"t":0.6,"x":-3},{"p":31,"t":0.65,"x":-5},{"p":31,"t":0.7,"x":-4},{"p":31,"t":0.75,"x":-2},{"p":31,"t":0.8,"x":-3},{"p":31,"t":0.85,"x":-1},{"p":31,"t":0.9,"x":0},{"p":31,"t":0.95,"x":-2},{"p":31,"t":1,"x":-3},{"p":31,"t":1.05,"x":-1},{"p":31,"t":1.1,"x":-2},{"p":31,"t":1.15,"x":0},{"p":31,"t":1.2,"x":1},{"p":31,"t":1.25,"x":-1},{"p":31,"t":1.3,"x":-2},{"p":31,"t":1.35,"x":-4},{"p":31,"t":1.4,"x":-3},{"p":31,"t":1.45,"x":-1},{"p":31,"t":1.5,"x":-2},{"p":31,"t":1.55,"x":0},{"p":31,"t":1.6,"x":-1},{"p":31,"t":1.65,"x":-3},{"p":31,"t":1.7,"x":-4},{"p":31,"t":1.75,"x":-2},{"p":31,"t":1.8,"x":-3},{"p":31,"t":1.85,"x":-1},{"p":31,"t":1.9,"x":-2},{"p":31,"t":1.95,"x":-3},{"p":31,"t":2,"x":-2},
{"p":32,"t":0,"x":4},{"p":32,"t":0.05,"x":3},{"p":32,"t":0.1,"x":5},{"p":32,"t":0.15,"x":4},{"p":32,"t":0.2,"x":2},{"p":32,"t":0.25,"x":3},{"p":32,"t":0.3,"x":1},{"p":32,"t":0.35,"x":2},{"p":32,"t":0.4,"x":4},{"p":32,"t":0.45,"x":5},{"p":32,"t":0.5,"x":3},{"p":32,"t":0.55,"x":4},{"p":32,"t":0.6,"x":2},{"p":32,"t":0.65,"x":1},{"p":32,"t":0.7,"x":3},{"p":32,"t":0.75,"x":2},{"p":32,"t":0.8,"x":4},{"p":32,"t":0.85,"x":5},{"p":32,"t":0.9,"x":3},{"p":32,"t":0.95,"x":2},{"p":32,"t":1,"x":0},{"p":32,"t":1.05,"x":1},{"p":32,"t":1.1,"x":3},{"p":32,"t":1.15,"x":2},{"p":32,"t":1.2,"x":4},{"p":32,"t":1.25,"x":3},{"p":32,"t":1.3,"x":5},{"p":32,"t":1.35,"x":4},{"p":32,"t":1.4,"x":2},{"p":32,"t":1.45,"x":3},{"p":32,"t":1.5,"x":1},{"p":32,"t":1.55,"x":0},{"p":32,"t":1.6,"x":2},{"p":32,"t":1.65,"x":1},{"p":32,"t":1.7,"x":3},{"p":32,"t":1.75,"x":4},{"p":32,"t":1.8,"x":2},{"p":32,"t":1.85,"x":3},{"p":32,"t":1.9,"x":1},{"p":32,"t":1.95,"x":2},{"p":32,"t":2,"x":1},
{"p":33,"t":0,"x":-4},{"p":33,"t":0.05,"x":-3},{"p":33,"t":0.1,"x":-1},{"p":33,"t":0.15,"x":-2},{"p":33,"t":0.2,"x":0},{"p":33,"t":0.25,"x":-1},{"p":33,"t":0.3,"x":-3},{"p":33,"t":0.35,"x":-2},{"p":33,"t":0.4,"x":-4},{"p":33,"t":0.45,"x":-3},{"p":33,"t":0.5,"x":-1},{"p":33,"t":0.55,"x":0},{"p":33,"t":0.6,"x":-2},{"p":33,"t":0.65,"x":-1},{"p":33,"t":0.7,"x":1},{"p":33,"t":0.75,"x":0},{"p":33,"t":0.8,"x":-1},{"p":33,"t":0.85,"x":-3},{"p":33,"t":0.9,"x":-2},{"p":33,"t":0.95,"x":0},{"p":33,"t":1,"x":1},{"p":33,"t":1.05,"x":-1},{"p":33,"t":1.1,"x":0},{"p":33,"t":1.15,"x":2},{"p":33,"t":1.2,"x":1},{"p":33,"t":1.25,"x":-1},{"p":33,"t":1.3,"x":-2},{"p":33,"t":1.35,"x":0},{"p":33,"t":1.4,"x":-1},{"p":33,"t":1.45,"x":-3},{"p":33,"t":1.5,"x":-2},{"p":33,"t":1.55,"x":-4},{"p":33,"t":1.6,"x":-3},{"p":33,"t":1.65,"x":-1},{"p":33,"t":1.7,"x":-2},{"p":33,"t":1.75,"x":0},{"p":33,"t":1.8,"x":-1},{"p":33,"t":1.85,"x":1},{"p":33,"t":1.9,"x":0},{"p":33,"t":1.95,"x":-2},{"p":33,"t":2,"x":-1},
{"p":34,"t":0,"x":0.5},{"p":34,"t":0.1,"x":-0.3},{"p":34,"t":0.2,"x":0.8},{"p":34,"t":0.3,"x":0.1},{"p":34,"t":0.4,"x":-0.6},{"p":34,"t":0.5,"x":0.2},{"p":34,"t":0.6,"x":0.9},{"p":34,"t":0.7,"x":0.3},{"p":34,"t":0.8,"x":-0.4},{"p":34,"t":0.9,"x":0.4},{"p":34,"t":1,"x":-0.2},{"p":34,"t":1.1,"x":0.6},{"p":34,"t":1.2,"x":0},{"p":34,"t":1.3,"x":-0.7},{"p":34,"t":1.4,"x":0.1},{"p":34,"t":1.5,"x":0.7},{"p":34,"t":1.6,"x":-0.1},{"p":34,"t":1.7,"x":0.5},{"p":34,"t":1.8,"x":-0.5},{"p":34,"t":1.9,"x":0.2},{"p":34,"t":2,"x":0.3},
{"p":35,"t":0,"x":-0.4},{"p":35,"t":0.1,"x":0.3},{"p":35,"t":0.2,"x":-0.8},{"p":35,"t":0.3,"x":-0.1},{"p":35,"t":0.4,"x":0.5},{"p":35,"t":0.5,"x":-0.3},{"p":35,"t":0.6,"x":0.2},{"p":35,"t":0.7,"x":-0.6},{"p":35,"t":0.8,"x":0.1},{"p":35,"t":0.9,"x":0.8},{"p":35,"t":1,"x":0},{"p":35,"t":1.1,"x":-0.5},{"p":35,"t":1.2,"x":0.4},{"p":35,"t":1.3,"x":-0.2},{"p":35,"t":1.4,"x":0.6},{"p":35,"t":1.5,"x":-0.4},{"p":35,"t":1.6,"x":0.2},{"p":35,"t":1.7,"x":-0.7},{"p":35,"t":1.8,"x":0},{"p":35,"t":1.9,"x":0.5},{"p":35,"t":2,"x":-0.2},
{"p":36,"t":0,"x":1},{"p":36,"t":0.1,"x":0.4},{"p":36,"t":0.2,"x":1.2},{"p":36,"t":0.3,"x":0.6},{"p":36,"t":0.4,"x":0},{"p":36,"t":0.5,"x":0.7},{"p":36,"t":0.6,"x":-0.2},{"p":36,"t":0.7,"x":0.5},{"p":36,"t":0.8,"x":1.1},{"p":36,"t":0.9,"x":0.3},{"p":36,"t":1,"x":0.8},{"p":36,"t":1.1,"x":0.1},{"p":36,"t":1.2,"x":0.9},{"p":36,"t":1.3,"x":0.4},{"p":36,"t":1.4,"x":-0.3},{"p":36,"t":1.5,"x":0.5},{"p":36,"t":1.6,"x":0.9},{"p":36,"t":1.7,"x":0.2},{"p":36,"t":1.8,"x":0.7},{"p":36,"t":1.9,"x":0},{"p":36,"t":2,"x":0.4},
{"p":37,"t":0,"x":-0.9},{"p":37,"t":0.1,"x":-0.2},{"p":37,"t":0.2,"x":-1.1},{"p":37,"t":0.3,"x":-0.5},{"p":37,"t":0.4,"x":0.2},{"p":37,"t":0.5,"x":-0.6},{"p":37,"t":0.6,"x":-1},{"p":37,"t":0.7,"x":-0.3},{"p":37,"t":0.8,"x":0.1},{"p":37,"t":0.9,"x":-0.7},{"p":37,"t":1,"x":-0.2},{"p":37,"t":1.1,"x":-1.2},{"p":37,"t":1.2,"x":-0.5},{"p":37,"t":1.3,"x":0},{"p":37,"t":1.4,"x":-0.8},{"p":37,"t":1.5,"x":-0.3},{"p":37,"t":1.6,"x":-1},{"p":37,"t":1.7,"x":-0.4},{"p":37,"t":1.8,"x":0.1},{"p":37,"t":1.9,"x":-0.6},{"p":37,"t":2,"x":-0.3},
{"p":38,"t":0,"x":0.2},{"p":38,"t":0.1,"x":0.9},{"p":38,"t":0.2,"x":0.3},{"p":38,"t":0.3,"x":-0.4},{"p":38,"t":0.4,"x":0.5},{"p":38,"t":0.5,"x":1},{"p":38,"t":0.6,"x":0.4},{"p":38,"t":0.7,"x":-0.2},{"p":38,"t":0.8,"x":0.6},{"p":38,"t":0.9,"x":0},{"p":38,"t":1,"x":0.7},{"p":38,"t":1.1,"x":1.1},{"p":38,"t":1.2,"x":0.3},{"p":38,"t":1.3,"x":0.8},{"p":38,"t":1.4,"x":0.1},{"p":38,"t":1.5,"x":-0.5},{"p":38,"t":1.6,"x":0.4},{"p":38,"t":1.7,"x":0.9},{"p":38,"t":1.8,"x":0.2},{"p":38,"t":1.9,"x":0.6},{"p":38,"t":2,"x":0.1},
{"p":39,"t":0,"x":-0.2},{"p":39,"t":0.1,"x":-0.9},{"p":39,"t":0.2,"x":-0.3},{"p":39,"t":0.3,"x":0.4},{"p":39,"t":0.4,"x":-0.5},{"p":39,"t":0.5,"x":-1},{"p":39,"t":0.6,"x":-0.1},{"p":39,"t":0.7,"x":-0.7},{"p":39,"t":0.8,"x":0.2},{"p":39,"t":0.9,"x":-0.4},{"p":39,"t":1,"x":-0.9},{"p":39,"t":1.1,"x":-0.2},{"p":39,"t":1.2,"x":-0.6},{"p":39,"t":1.3,"x":0.3},{"p":39,"t":1.4,"x":-0.3},{"p":39,"t":1.5,"x":-0.8},{"p":39,"t":1.6,"x":0},{"p":39,"t":1.7,"x":-0.5},{"p":39,"t":1.8,"x":-1},{"p":39,"t":1.9,"x":-0.3},{"p":39,"t":2,"x":-0.5},
{"p":40,"t":0,"x":0.8},{"p":40,"t":0.1,"x":0.4},{"p":40,"t":0.2,"x":1},{"p":40,"t":0.3,"x":0.6},{"p":40,"t":0.4,"x":1.1},{"p":40,"t":0.5,"x":0.7},{"p":40,"t":0.6,"x":0.4},{"p":40,"t":0.7,"x":0.8},{"p":40,"t":0.8,"x":1},{"p":40,"t":0.9,"x":0.6},{"p":40,"t":1,"x":0.9},{"p":40,"t":1.1,"x":0.5},{"p":40,"t":1.2,"x":0.8},{"p":40,"t":1.3,"x":1.1},{"p":40,"t":1.4,"x":0.7},{"p":40,"t":1.5,"x":0.3},{"p":40,"t":1.6,"x":0.7},{"p":40,"t":1.7,"x":1},{"p":40,"t":1.8,"x":0.5},{"p":40,"t":1.9,"x":0.8},{"p":40,"t":2,"x":0.6},
{"p":41,"t":0,"x":-0.8},{"p":41,"t":0.1,"x":-1.1},{"p":41,"t":0.2,"x":-0.6},{"p":41,"t":0.3,"x":-0.9},{"p":41,"t":0.4,"x":-0.5},{"p":41,"t":0.5,"x":-0.8},{"p":41,"t":0.6,"x":-1.1},{"p":41,"t":0.7,"x":-0.7},{"p":41,"t":0.8,"x":-1},{"p":41,"t":0.9,"x":-0.5},{"p":41,"t":1,"x":-0.9},{"p":41,"t":1.1,"x":-1.2},{"p":41,"t":1.2,"x":-0.7},{"p":41,"t":1.3,"x":-0.4},{"p":41,"t":1.4,"x":-0.8},{"p":41,"t":1.5,"x":-1},{"p":41,"t":1.6,"x":-0.6},{"p":41,"t":1.7,"x":-0.9},{"p":41,"t":1.8,"x":-0.7},{"p":41,"t":1.9,"x":-1.1},{"p":41,"t":2,"x":-0.8},
{"p":42,"t":0,"x":0},{"p":42,"t":0.1,"x":0.6},{"p":42,"t":0.2,"x":-0.3},{"p":42,"t":0.3,"x":0.4},{"p":42,"t":0.4,"x":-0.5},{"p":42,"t":0.5,"x":0.3},{"p":42,"t":0.6,"x":-0.2},{"p":42,"t":0.7,"x":0.7},{"p":42,"t":0.8,"x":0},{"p":42,"t":0.9,"x":-0.6},{"p":42,"t":1,"x":0.2},{"p":42,"t":1.1,"x":0.5},{"p":42,"t":1.2,"x":-0.4},{"p":42,"t":1.3,"x":0.1},{"p":42,"t":1.4,"x":0.6},{"p":42,"t":1.5,"x":-0.3},{"p":42,"t":1.6,"x":0.3},{"p":42,"t":1.7,"x":-0.5},{"p":42,"t":1.8,"x":0.4},{"p":42,"t":1.9,"x":-0.1},{"p":42,"t":2,"x":0.2},
{"p":43,"t":0,"x":0.6},{"p":43,"t":0.1,"x":0.2},{"p":43,"t":0.2,"x":0.9},{"p":43,"t":0.3,"x":0.4},{"p":43,"t":0.4,"x":0.1},{"p":43,"t":0.5,"x":0.7},{"p":43,"t":0.6,"x":1},{"p":43,"t":0.7,"x":0.3},{"p":43,"t":0.8,"x":0.8},{"p":43,"t":0.9,"x":0},{"p":43,"t":1,"x":0.5},{"p":43,"t":1.1,"x":1},{"p":43,"t":1.2,"x":0.4},{"p":43,"t":1.3,"x":0.1},{"p":43,"t":1.4,"x":0.8},{"p":43,"t":1.5,"x":0.5},{"p":43,"t":1.6,"x":0.2},{"p":43,"t":1.7,"x":0.9},{"p":43,"t":1.8,"x":0.4},{"p":43,"t":1.9,"x":0},{"p":43,"t":2,"x":0.6},
{"p":44,"t":0,"x":1},{"p":44,"t":0.05,"x":3},{"p":44,"t":0.1,"x":2},{"p":44,"t":0.15,"x":4},{"p":44,"t":0.2,"x":5},{"p":44,"t":0.25,"x":3},{"p":44,"t":0.3,"x":4},{"p":44,"t":0.35,"x":2},{"p":44,"t":0.4,"x":1},{"p":44,"t":0.45,"x":3},{"p":44,"t":0.5,"x":2},{"p":44,"t":0.55,"x":0},{"p":44,"t":0.6,"x":1},{"p":44,"t":0.65,"x":3},{"p":44,"t":0.7,"x":4},{"p":44,"t":0.75,"x":2},{"p":44,"t":0.8,"x":3},{"p":44,"t":0.85,"x":5},{"p":44,"t":0.9,"x":4},{"p":44,"t":0.95,"x":2},{"p":44,"t":1,"x":3},{"p":44,"t":1.05,"x":1},{"p":44,"t":1.1,"x":2},{"p":44,"t":1.15,"x":0},{"p":44,"t":1.2,"x":-1},{"p":44,"t":1.25,"x":1},{"p":44,"t":1.3,"x":2},{"p":44,"t":1.35,"x":4},{"p":44,"t":1.4,"x":3},{"p":44,"t":1.45,"x":1},{"p":44,"t":1.5,"x":2},{"p":44,"t":1.55,"x":0},{"p":44,"t":1.6,"x":1},{"p":44,"t":1.65,"x":3},{"p":44,"t":1.7,"x":2},{"p":44,"t":1.75,"x":4},{"p":44,"t":1.8,"x":3},{"p":44,"t":1.85,"x":1},{"p":44,"t":1.9,"x":2},{"p":44,"t":1.95,"x":0},{"p":44,"t":2,"x":1},
{"p":45,"t":0,"x":-2},{"p":45,"t":0.05,"x":-4},{"p":45,"t":0.1,"x":-3},{"p":45,"t":0.15,"x":-5},{"p":45,"t":0.2,"x":-4},{"p":45,"t":0.25,"x":-2},{"p":45,"t":0.3,"x":-3},{"p":45,"t":0.35,"x":-1},{"p":45,"t":0.4,"x":-2},{"p":45,"t":0.45,"x":-4},{"p":45,"t":0.5,"x":-5},{"p":45,"t":0.55,"x":-3},{"p":45,"t":0.6,"x":-4},{"p":45,"t":0.65,"x":-6},{"p":45,"t":0.7,"x":-5},{"p":45,"t":0.75,"x":-3},{"p":45,"t":0.8,"x":-4},{"p":45,"t":0.85,"x":-2},{"p":45,"t":0.9,"x":-3},{"p":45,"t":0.95,"x":-1},{"p":45,"t":1,"x":-2},{"p":45,"t":1.05,"x":-4},{"p":45,"t":1.1,"x":-3},{"p":45,"t":1.15,"x":-5},{"p":45,"t":1.2,"x":-6},{"p":45,"t":1.25,"x":-4},{"p":45,"t":1.3,"x":-5},{"p":45,"t":1.35,"x":-3},{"p":45,"t":1.4,"x":-2},{"p":45,"t":1.45,"x":-4},{"p":45,"t":1.5,"x":-3},{"p":45,"t":1.55,"x":-1},{"p":45,"t":1.6,"x":-2},{"p":45,"t":1.65,"x":-3},{"p":45,"t":1.7,"x":-1},{"p":45,"t":1.75,"x":0},{"p":45,"t":1.8,"x":-2},{"p":45,"t":1.85,"x":-1},{"p":45,"t":1.9,"x":-3},{"p":45,"t":1.95,"x":-2},{"p":45,"t":2,"x":-2},
{"p":46,"t":0,"x":5},{"p":46,"t":0.05,"x":7},{"p":46,"t":0.1,"x":6},{"p":46,"t":0.15,"x":8},{"p":46,"t":0.2,"x":10},{"p":46,"t":0.25,"x":8},{"p":46,"t":0.3,"x":9},{"p":46,"t":0.35,"x":7},{"p":46,"t":0.4,"x":8},{"p":46,"t":0.45,"x":10},{"p":46,"t":0.5,"x":11},{"p":46,"t":0.55,"x":9},{"p":46,"t":0.6,"x":10},{"p":46,"t":0.65,"x":8},{"p":46,"t":0.7,"x":9},{"p":46,"t":0.75,"x":11},{"p":46,"t":0.8,"x":12},{"p":46,"t":0.85,"x":10},{"p":46,"t":0.9,"x":8},{"p":46,"t":0.95,"x":9},{"p":46,"t":1,"x":7},{"p":46,"t":1.05,"x":8},{"p":46,"t":1.1,"x":6},{"p":46,"t":1.15,"x":7},{"p":46,"t":1.2,"x":9},{"p":46,"t":1.25,"x":8},{"p":46,"t":1.3,"x":10},{"p":46,"t":1.35,"x":11},{"p":46,"t":1.4,"x":9},{"p":46,"t":1.45,"x":7},{"p":46,"t":1.5,"x":8},{"p":46,"t":1.55,"x":6},{"p":46,"t":1.6,"x":5},{"p":46,"t":1.65,"x":7},{"p":46,"t":1.7,"x":6},{"p":46,"t":1.75,"x":8},{"p":46,"t":1.8,"x":7},{"p":46,"t":1.85,"x":5},{"p":46,"t":1.9,"x":6},{"p":46,"t":1.95,"x":4},{"p":46,"t":2,"x":5},
{"p":47,"t":0,"x":0},{"p":47,"t":0.05,"x":1},{"p":47,"t":0.1,"x":-1},{"p":47,"t":0.15,"x":0},{"p":47,"t":0.2,"x":2},{"p":47,"t":0.25,"x":1},{"p":47,"t":0.3,"x":3},{"p":47,"t":0.35,"x":2},{"p":47,"t":0.4,"x":0},{"p":47,"t":0.45,"x":1},{"p":47,"t":0.5,"x":-1},{"p":47,"t":0.55,"x":-2},{"p":47,"t":0.6,"x":0},{"p":47,"t":0.65,"x":1},{"p":47,"t":0.7,"x":2},{"p":47,"t":0.75,"x":0},{"p":47,"t":0.8,"x":-1},{"p":47,"t":0.85,"x":1},{"p":47,"t":0.9,"x":0},{"p":47,"t":0.95,"x":2},{"p":47,"t":1,"x":1},{"p":47,"t":1.05,"x":-1},{"p":47,"t":1.1,"x":0},{"p":47,"t":1.15,"x":-2},{"p":47,"t":1.2,"x":-1},{"p":47,"t":1.25,"x":1},{"p":47,"t":1.3,"x":0},{"p":47,"t":1.35,"x":2},{"p":47,"t":1.4,"x":3},{"p":47,"t":1.45,"x":1},{"p":47,"t":1.5,"x":2},{"p":47,"t":1.55,"x":0},{"p":47,"t":1.6,"x":-1},{"p":47,"t":1.65,"x":0},{"p":47,"t":1.7,"x":-2},{"p":47,"t":1.75,"x":-1},{"p":47,"t":1.8,"x":1},{"p":47,"t":1.85,"x":0},{"p":47,"t":1.9,"x":2},{"p":47,"t":1.95,"x":1},{"p":47,"t":2,"x":0},
{"p":48,"t":0,"x":-4},{"p":48,"t":0.05,"x":-6},{"p":48,"t":0.1,"x":-5},{"p":48,"t":0.15,"x":-7},{"p":48,"t":0.2,"x":-6},{"p":48,"t":0.25,"x":-8},{"p":48,"t":0.3,"x":-7},{"p":48,"t":0.35,"x":-9},{"p":48,"t":0.4,"x":-8},{"p":48,"t":0.45,"x":-6},{"p":48,"t":0.5,"x":-7},{"p":48,"t":0.55,"x":-5},{"p":48,"t":0.6,"x":-6},{"p":48,"t":0.65,"x":-8},{"p":48,"t":0.7,"x":-10},{"p":48,"t":0.75,"x":-9},{"p":48,"t":0.8,"x":-11},{"p":48,"t":0.85,"x":-9},{"p":48,"t":0.9,"x":-8},{"p":48,"t":0.95,"x":-10},{"p":48,"t":1,"x":-9},{"p":48,"t":1.05,"x":-7},{"p":48,"t":1.1,"x":-8},{"p":48,"t":1.15,"x":-6},{"p":48,"t":1.2,"x":-7},{"p":48,"t":1.25,"x":-9},{"p":48,"t":1.3,"x":-8},{"p":48,"t":1.35,"x":-10},{"p":48,"t":1.4,"x":-9},{"p":48,"t":1.45,"x":-11},{"p":48,"t":1.5,"x":-10},{"p":48,"t":1.55,"x":-8},{"p":48,"t":1.6,"x":-9},{"p":48,"t":1.65,"x":-7},{"p":48,"t":1.7,"x":-8},{"p":48,"t":1.75,"x":-6},{"p":48,"t":1.8,"x":-7},{"p":48,"t":1.85,"x":-9},{"p":48,"t":1.9,"x":-8},{"p":48,"t":1.95,"x":-6},{"p":48,"t":2,"x":-7},
{"p":49,"t":0,"x":2},{"p":49,"t":0.05,"x":1},{"p":49,"t":0.1,"x":0},{"p":49,"t":0.15,"x":1},{"p":49,"t":0.2,"x":-1},{"p":49,"t":0.25,"x":0},{"p":49,"t":0.3,"x":2},{"p":49,"t":0.35,"x":3},{"p":49,"t":0.4,"x":1},{"p":49,"t":0.45,"x":2},{"p":49,"t":0.5,"x":0},{"p":49,"t":0.55,"x":1},{"p":49,"t":0.6,"x":3},{"p":49,"t":0.65,"x":2},{"p":49,"t":0.7,"x":4},{"p":49,"t":0.75,"x":3},{"p":49,"t":0.8,"x":1},{"p":49,"t":0.85,"x":0},{"p":49,"t":0.9,"x":2},{"p":49,"t":0.95,"x":1},{"p":49,"t":1,"x":-1},{"p":49,"t":1.05,"x":0},{"p":49,"t":1.1,"x":1},{"p":49,"t":1.15,"x":-1},{"p":49,"t":1.2,"x":-2},{"p":49,"t":1.25,"x":0},{"p":49,"t":1.3,"x":1},{"p":49,"t":1.35,"x":2},{"p":49,"t":1.4,"x":0},{"p":49,"t":1.45,"x":1},{"p":49,"t":1.5,"x":3},{"p":49,"t":1.55,"x":2},{"p":49,"t":1.6,"x":1},{"p":49,"t":1.65,"x":-1},{"p":49,"t":1.7,"x":0},{"p":49,"t":1.75,"x":1},{"p":49,"t":1.8,"x":-1},{"p":49,"t":1.85,"x":0},{"p":49,"t":1.9,"x":2},{"p":49,"t":1.95,"x":1},{"p":49,"t":2,"x":1},
{"p":50,"t":0,"x":-3},{"p":50,"t":0.05,"x":-2},{"p":50,"t":0.1,"x":-4},{"p":50,"t":0.15,"x":-3},{"p":50,"t":0.2,"x":-1},{"p":50,"t":0.25,"x":-2},{"p":50,"t":0.3,"x":0},{"p":50,"t":0.35,"x":-1},{"p":50,"t":0.4,"x":1},{"p":50,"t":0.45,"x":0},{"p":50,"t":0.5,"x":-2},{"p":50,"t":0.55,"x":-1},{"p":50,"t":0.6,"x":-3},{"p":50,"t":0.65,"x":-4},{"p":50,"t":0.7,"x":-2},{"p":50,"t":0.75,"x":-3},{"p":50,"t":0.8,"x":-1},{"p":50,"t":0.85,"x":0},{"p":50,"t":0.9,"x":-2},{"p":50,"t":0.95,"x":-1},{"p":50,"t":1,"x":1},{"p":50,"t":1.05,"x":2},{"p":50,"t":1.1,"x":0},{"p":50,"t":1.15,"x":1},{"p":50,"t":1.2,"x":-1},{"p":50,"t":1.25,"x":0},{"p":50,"t":1.3,"x":-2},{"p":50,"t":1.35,"x":-3},{"p":50,"t":1.4,"x":-1},{"p":50,"t":1.45,"x":-2},{"p":50,"t":1.5,"x":0},{"p":50,"t":1.55,"x":1},{"p":50,"t":1.6,"x":-1},{"p":50,"t":1.65,"x":0},{"p":50,"t":1.7,"x":2},{"p":50,"t":1.75,"x":1},{"p":50,"t":1.8,"x":-1},{"p":50,"t":1.85,"x":-2},{"p":50,"t":1.9,"x":0},{"p":50,"t":1.95,"x":-1},{"p":50,"t":2,"x":-2},
{"p":51,"t":0,"x":7},{"p":51,"t":0.05,"x":5},{"p":51,"t":0.1,"x":6},{"p":51,"t":0.15,"x":4},{"p":51,"t":0.2,"x":6},{"p":51,"t":0.25,"x":8},{"p":51,"t":0.3,"x":7},{"p":51,"t":0.35,"x":9},{"p":51,"t":0.4,"x":8},{"p":51,"t":0.45,"x":6},{"p":51,"t":0.5,"x":7},{"p":51,"t":0.55,"x":5},{"p":51,"t":0.6,"x":6},{"p":51,"t":0.65,"x":8},{"p":51,"t":0.7,"x":7},{"p":51,"t":0.75,"x":9},{"p":51,"t":0.8,"x":10},{"p":51,"t":0.85,"x":8},{"p":51,"t":0.9,"x":6},{"p":51,"t":0.95,"x":7},{"p":51,"t":1,"x":5},{"p":51,"t":1.05,"x":6},{"p":51,"t":1.1,"x":4},{"p":51,"t":1.15,"x":5},{"p":51,"t":1.2,"x":7},{"p":51,"t":1.25,"x":6},{"p":51,"t":1.3,"x":8},{"p":51,"t":1.35,"x":9},{"p":51,"t":1.4,"x":7},{"p":51,"t":1.45,"x":8},{"p":51,"t":1.5,"x":6},{"p":51,"t":1.55,"x":7},{"p":51,"t":1.6,"x":9},{"p":51,"t":1.65,"x":8},{"p":51,"t":1.7,"x":10},{"p":51,"t":1.75,"x":9},{"p":51,"t":1.8,"x":7},{"p":51,"t":1.85,"x":8},{"p":51,"t":1.9,"x":6},{"p":51,"t":1.95,"x":7},{"p":51,"t":2,"x":6},
{"p":52,"t":0,"x":-1},{"p":52,"t":0.05,"x":0},{"p":52,"t":0.1,"x":1},{"p":52,"t":0.15,"x":-1},{"p":52,"t":0.2,"x":0},{"p":52,"t":0.25,"x":2},{"p":52,"t":0.3,"x":1},{"p":52,"t":0.35,"x":0},{"p":52,"t":0.4,"x":-1},{"p":52,"t":0.45,"x":-2},{"p":52,"t":0.5,"x":0},{"p":52,"t":0.55,"x":-1},{"p":52,"t":0.6,"x":1},{"p":52,"t":0.65,"x":2},{"p":52,"t":0.7,"x":0},{"p":52,"t":0.75,"x":1},{"p":52,"t":0.8,"x":-1},{"p":52,"t":0.85,"x":-2},{"p":52,"t":0.9,"x":-1},{"p":52,"t":0.95,"x":0},{"p":52,"t":1,"x":-1},{"p":52,"t":1.05,"x":1},{"p":52,"t":1.1,"x":2},{"p":52,"t":1.15,"x":1},{"p":52,"t":1.2,"x":0},{"p":52,"t":1.25,"x":-1},{"p":52,"t":1.3,"x":1},{"p":52,"t":1.35,"x":0},{"p":52,"t":1.4,"x":-2},{"p":52,"t":1.45,"x":-1},{"p":52,"t":1.5,"x":0},{"p":52,"t":1.55,"x":1},{"p":52,"t":1.6,"x":-1},{"p":52,"t":1.65,"x":-2},{"p":52,"t":1.7,"x":0},{"p":52,"t":1.75,"x":1},{"p":52,"t":1.8,"x":2},{"p":52,"t":1.85,"x":0},{"p":52,"t":1.9,"x":-1},{"p":52,"t":1.95,"x":0},{"p":52,"t":2,"x":0},
{"p":53,"t":0,"x":3},{"p":53,"t":0.05,"x":5},{"p":53,"t":0.1,"x":4},{"p":53,"t":0.15,"x":6},{"p":53,"t":0.2,"x":5},{"p":53,"t":0.25,"x":3},{"p":53,"t":0.3,"x":4},{"p":53,"t":0.35,"x":2},{"p":53,"t":0.4,"x":3},{"p":53,"t":0.45,"x":5},{"p":53,"t":0.5,"x":6},{"p":53,"t":0.55,"x":4},{"p":53,"t":0.6,"x":5},{"p":53,"t":0.65,"x":3},{"p":53,"t":0.7,"x":2},{"p":53,"t":0.75,"x":4},{"p":53,"t":0.8,"x":3},{"p":53,"t":0.85,"x":5},{"p":53,"t":0.9,"x":6},{"p":53,"t":0.95,"x":4},{"p":53,"t":1,"x":3},{"p":53,"t":1.05,"x":5},{"p":53,"t":1.1,"x":4},{"p":53,"t":1.15,"x":6},{"p":53,"t":1.2,"x":7},{"p":53,"t":1.25,"x":5},{"p":53,"t":1.3,"x":6},{"p":53,"t":1.35,"x":4},{"p":53,"t":1.4,"x":3},{"p":53,"t":1.45,"x":5},{"p":53,"t":1.5,"x":4},{"p":53,"t":1.55,"x":2},{"p":53,"t":1.6,"x":3},{"p":53,"t":1.65,"x":1},{"p":53,"t":1.7,"x":2},{"p":53,"t":1.75,"x":4},{"p":53,"t":1.8,"x":3},{"p":53,"t":1.85,"x":5},{"p":53,"t":1.9,"x":4},{"p":53,"t":1.95,"x":2},{"p":53,"t":2,"x":3},
{"p":54,"t":0,"x":-8},{"p":54,"t":0.05,"x":-6},{"p":54,"t":0.1,"x":-7},{"p":54,"t":0.15,"x":-5},{"p":54,"t":0.2,"x":-7},{"p":54,"t":0.25,"x":-6},{"p":54,"t":0.3,"x":-4},{"p":54,"t":0.35,"x":-5},{"p":54,"t":0.4,"x":-3},{"p":54,"t":0.45,"x":-4},{"p":54,"t":0.5,"x":-6},{"p":54,"t":0.55,"x":-5},{"p":54,"t":0.6,"x":-7},{"p":54,"t":0.65,"x":-6},{"p":54,"t":0.7,"x":-4},{"p":54,"t":0.75,"x":-5},{"p":54,"t":0.8,"x":-3},{"p":54,"t":0.85,"x":-4},{"p":54,"t":0.9,"x":-2},{"p":54,"t":0.95,"x":-4},{"p":54,"t":1,"x":-3},{"p":54,"t":1.05,"x":-5},{"p":54,"t":1.1,"x":-7},{"p":54,"t":1.15,"x":-6},{"p":54,"t":1.2,"x":-8},{"p":54,"t":1.25,"x":-7},{"p":54,"t":1.3,"x":-5},{"p":54,"t":1.35,"x":-6},{"p":54,"t":1.4,"x":-4},{"p":54,"t":1.45,"x":-5},{"p":54,"t":1.5,"x":-3},{"p":54,"t":1.55,"x":-4},{"p":54,"t":1.6,"x":-6},{"p":54,"t":1.65,"x":-5},{"p":54,"t":1.7,"x":-7},{"p":54,"t":1.75,"x":-6},{"p":54,"t":1.8,"x":-4},{"p":54,"t":1.85,"x":-5},{"p":54,"t":1.9,"x":-3},{"p":54,"t":1.95,"x":-4},{"p":54,"t":2,"x":-4},
{"p":55,"t":0,"x":1},{"p":55,"t":0.05,"x":0},{"p":55,"t":0.1,"x":2},{"p":55,"t":0.15,"x":1},{"p":55,"t":0.2,"x":-1},{"p":55,"t":0.25,"x":0},{"p":55,"t":0.3,"x":1},{"p":55,"t":0.35,"x":2},{"p":55,"t":0.4,"x":1},{"p":55,"t":0.45,"x":-1},{"p":55,"t":0.5,"x":0},{"p":55,"t":0.55,"x":1},{"p":55,"t":0.6,"x":-1},{"p":55,"t":0.65,"x":0},{"p":55,"t":0.7,"x":1},{"p":55,"t":0.75,"x":2},{"p":55,"t":0.8,"x":0},{"p":55,"t":0.85,"x":-1},{"p":55,"t":0.9,"x":0},{"p":55,"t":0.95,"x":1},{"p":55,"t":1,"x":2},{"p":55,"t":1.05,"x":1},{"p":55,"t":1.1,"x":0},{"p":55,"t":1.15,"x":-1},{"p":55,"t":1.2,"x":-2},{"p":55,"t":1.25,"x":-1},{"p":55,"t":1.3,"x":0},{"p":55,"t":1.35,"x":1},{"p":55,"t":1.4,"x":0},{"p":55,"t":1.45,"x":-1},{"p":55,"t":1.5,"x":1},{"p":55,"t":1.55,"x":2},{"p":55,"t":1.6,"x":1},{"p":55,"t":1.65,"x":0},{"p":55,"t":1.7,"x":-1},{"p":55,"t":1.75,"x":0},{"p":55,"t":1.8,"x":1},{"p":55,"t":1.85,"x":-1},{"p":55,"t":1.9,"x":0},{"p":55,"t":1.95,"x":1},{"p":55,"t":2,"x":0}
]},
"encoding":{
"x":{"field":"t","type":"quantitative","scale":{"domain":[0,2],"nice":false},
"axis":{"values":[0,0.25,0.5,0.75,1,1.25,1.5,1.75,2],"format":".2f","grid":false,"domainColor":"black","tickColor":"black","tickSize":5,"labelColor":"black","labelFontSize":14,"labelPadding":3,"labelFlush":false,
"title":"t","titleFontSize":27,"titleFontStyle":"italic","titleFontWeight":"normal","titleColor":"black","titleY":52,"titleBaseline":"alphabetic"}},
"y":{"field":"x","type":"quantitative","scale":{"domain":[-30,34.8],"nice":false,"zero":false},
"axis":{"values":[-30,-20,-10,0,10,20,30],"grid":false,"domainColor":"black","tickColor":"black","tickSize":5,"labelColor":"black","labelFontSize":14,"labelPadding":5,"labelFlush":false,
"title":"Xₜ","titleFontSize":25,"titleFontStyle":"italic","titleFontWeight":"normal","titleColor":"black","titleAngle":-90,"titleX":-54,"titleY":160,"titleBaseline":"alphabetic","titleAlign":"center"}},
"color":{"field":"p","type":"nominal","legend":null,
"scale":{"domain":[0,1,2,3,4,5,6,7,8,9,10,11,12,13,14,15,16,17,18,19,20,21,22,23,24,25,26,27,28,29,30,31,32,33,34,35,36,37,38,39,40,41,42,43,44,45,46,47,48,49,50,51,52,53,54,55],
"range":["#1f77b4","#ff7f0e","#2ca02c","#d62728","#9467bd","#8c564b","#e377c2","#7f7f7f","#bcbd22","#17becf"]}}
},
"layer":[
{"transform":[{"filter":"datum.p < 34 || datum.p > 43"}],"mark":{"type":"line","strokeWidth":1.6,"opacity":0.2,"strokeJoin":"round"}},
{"transform":[{"filter":"datum.p >= 34 && datum.p <= 43"}],"mark":{"type":"line","strokeWidth":3,"opacity":0.4,"strokeJoin":"round"}}
]
}
